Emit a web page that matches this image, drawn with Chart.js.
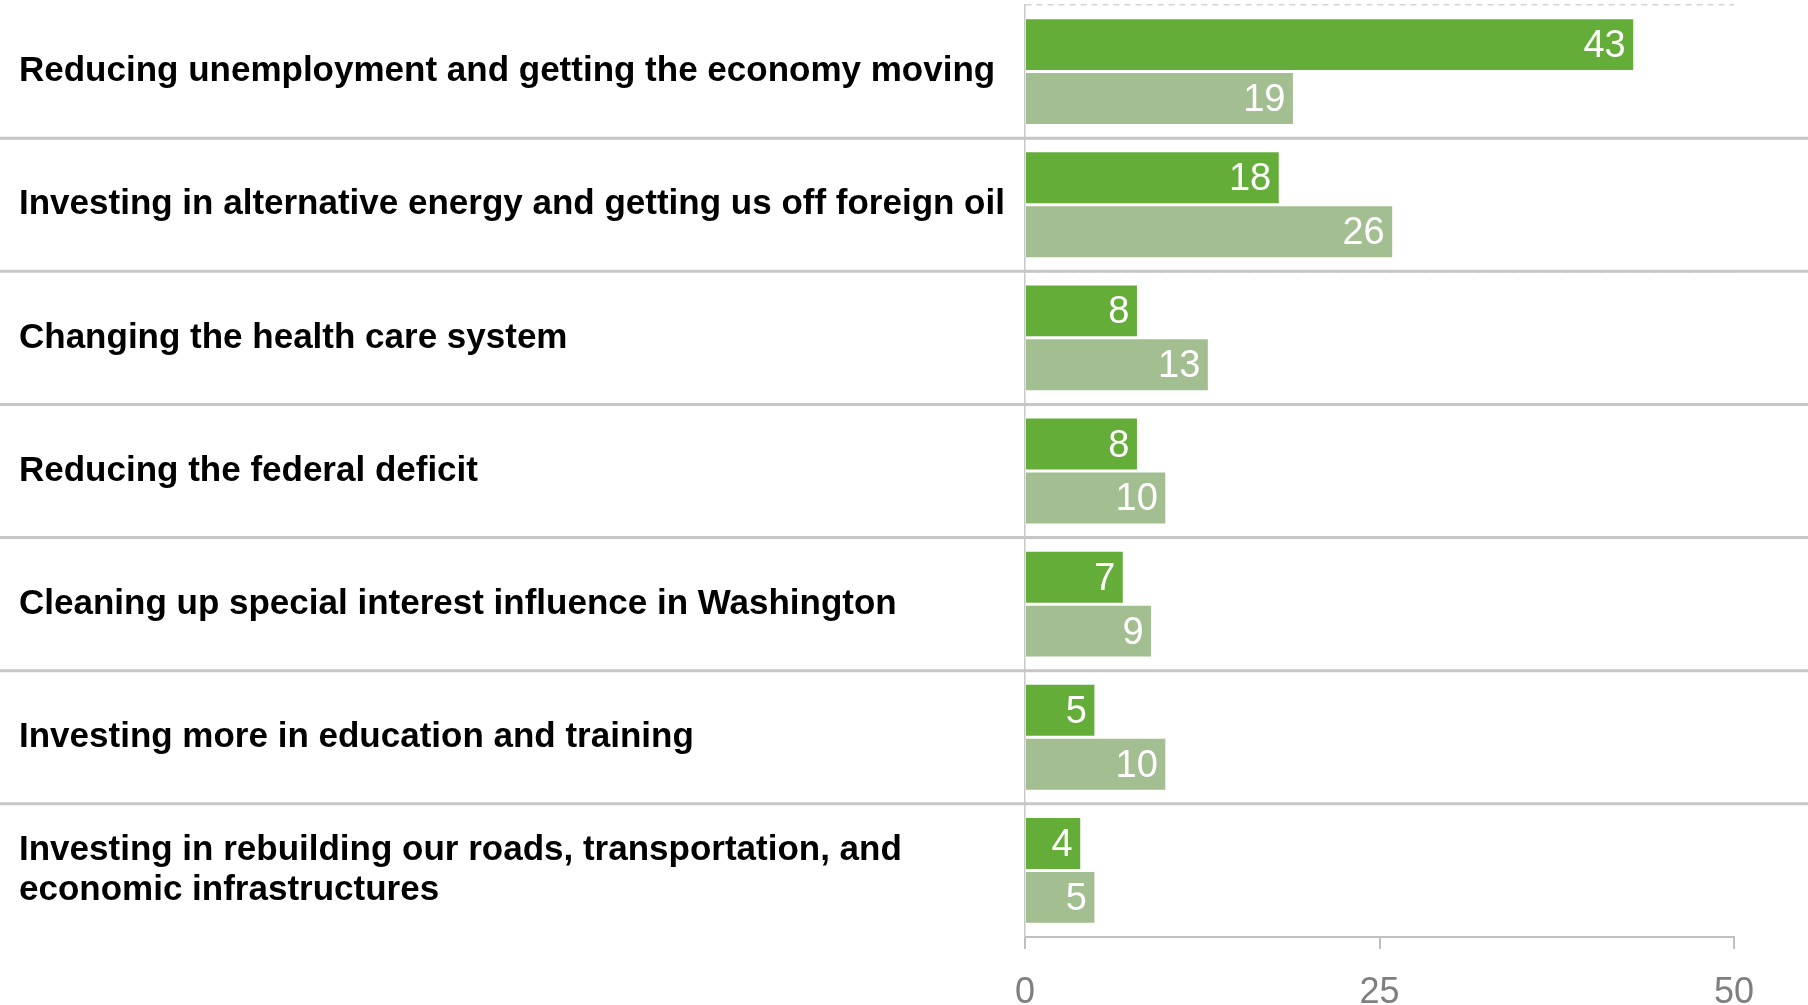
<!DOCTYPE html>
<html>
<head>
<meta charset="utf-8">
<title>Priorities</title>
<script src="https://cdn.jsdelivr.net/npm/chart.js@4/dist/chart.umd.min.js"></script>
<style>
    html, body { margin: 0; padding: 0; background: #fff; }
    #wrap { width: 1808px; height: 1005px; position: relative; }
</style>
</head>
<body>
<div id="wrap"><canvas id="chart"></canvas></div>
<script>
// Chart data
const categories = [
    'Reducing unemployment and getting the economy moving',
    'Investing in alternative energy and getting us off foreign oil',
    'Changing the health care system',
    'Reducing the federal deficit',
    'Cleaning up special interest influence in Washington',
    'Investing more in education and training',
    ['Investing in rebuilding our roads, transportation, and', 'economic infrastructures']
];
const firstChoice = [43, 18, 8, 8, 7, 5, 4];
const secondChoice = [19, 26, 13, 10, 9, 10, 5];
const xTicks = [0, 25, 50];

const FONT = '"Liberation Sans", Arial, sans-serif';

// Value labels drawn at the inner end of each bar
const valueLabels = {
    id: 'valueLabels',
    afterDatasetsDraw(chart) {
        const ctx = chart.ctx;
        ctx.save();
        ctx.font = '38px ' + FONT;
        ctx.fillStyle = '#ffffff';
        ctx.textAlign = 'right';
        ctx.textBaseline = 'middle';
        chart.data.datasets.forEach((ds, i) => {
            chart.getDatasetMeta(i).data.forEach((bar, j) => {
                ctx.fillText(String(ds.data[j]), bar.x - 9, bar.y + 2);
            });
        });
        ctx.restore();
    }
};

// Full-width separators between categories
const separators = {
    id: 'separators',
    beforeDatasetsDraw(chart) {
        const ctx = chart.ctx;
        const y = chart.scales.y;
        ctx.save();
        ctx.strokeStyle = '#c6c6c6';
        ctx.lineWidth = 3;
        for (let i = 0; i < categories.length - 1; i++) {
            const pos = (y.getPixelForTick(i) + y.getPixelForTick(i + 1)) / 2;
            ctx.beginPath();
            ctx.moveTo(0, pos);
            ctx.lineTo(chart.width, pos);
            ctx.stroke();
        }
        ctx.restore();
    }
};

new Chart(document.getElementById('chart'), {
    type: 'bar',
    data: {
        labels: categories,
        datasets: [{
            label: 'First choice',
            data: firstChoice,
            backgroundColor: '#63ad38',
            borderColor: '#ffffff',
            borderWidth: 1.5,
            borderSkipped: 'start'
        }, {
            label: 'Second choice',
            data: secondChoice,
            backgroundColor: '#a3be90',
            borderColor: '#ffffff',
            borderWidth: 1.5,
            borderSkipped: 'start'
        }]
    },
    options: {
        indexAxis: 'y',
        responsive: true,
        maintainAspectRatio: false,
        animation: false,
        layout: { padding: { left: 19, right: 74, top: 5, bottom: 0 } },
        datasets: { bar: { categoryPercentage: 0.81, barPercentage: 1 } },
        plugins: {
            legend: { display: false },
            tooltip: { enabled: false }
        },
        scales: {
            x: {
                min: 0,
                max: 50,
                afterBuildTicks(scale) {
                    scale.ticks = xTicks.map(v => ({ value: v }));
                },
                afterFit(scale) { scale.height = 68; },
                border: { display: true, color: '#c0c0c0', width: 2 },
                grid: { drawOnChartArea: false, drawTicks: true, tickLength: 12, color: '#c0c0c0', lineWidth: 2 },
                ticks: {
                    color: '#7f7f7f',
                    font: { family: FONT, size: 36 },
                    padding: 22
                }
            },
            y: {
                afterFit(scale) {
                    scale.width = 1006;
                    scale.paddingTop = 0;
                    scale.paddingBottom = 0;
                },
                grid: {
                    offset: true,
                    drawTicks: false,
                    color: '#d4d4d4',
                    lineWidth: 1.5
                },
                border: { display: true, color: '#c8c8c8', width: 1.5, dash: [6, 5] },
                ticks: {
                    crossAlign: 'far',
                    color: '#000000',
                    font: { family: FONT, size: 35, weight: 'bold', lineHeight: 1.15 }
                }
            }
        }
    },
    plugins: [separators, valueLabels]
});
</script>
</body>
</html>
